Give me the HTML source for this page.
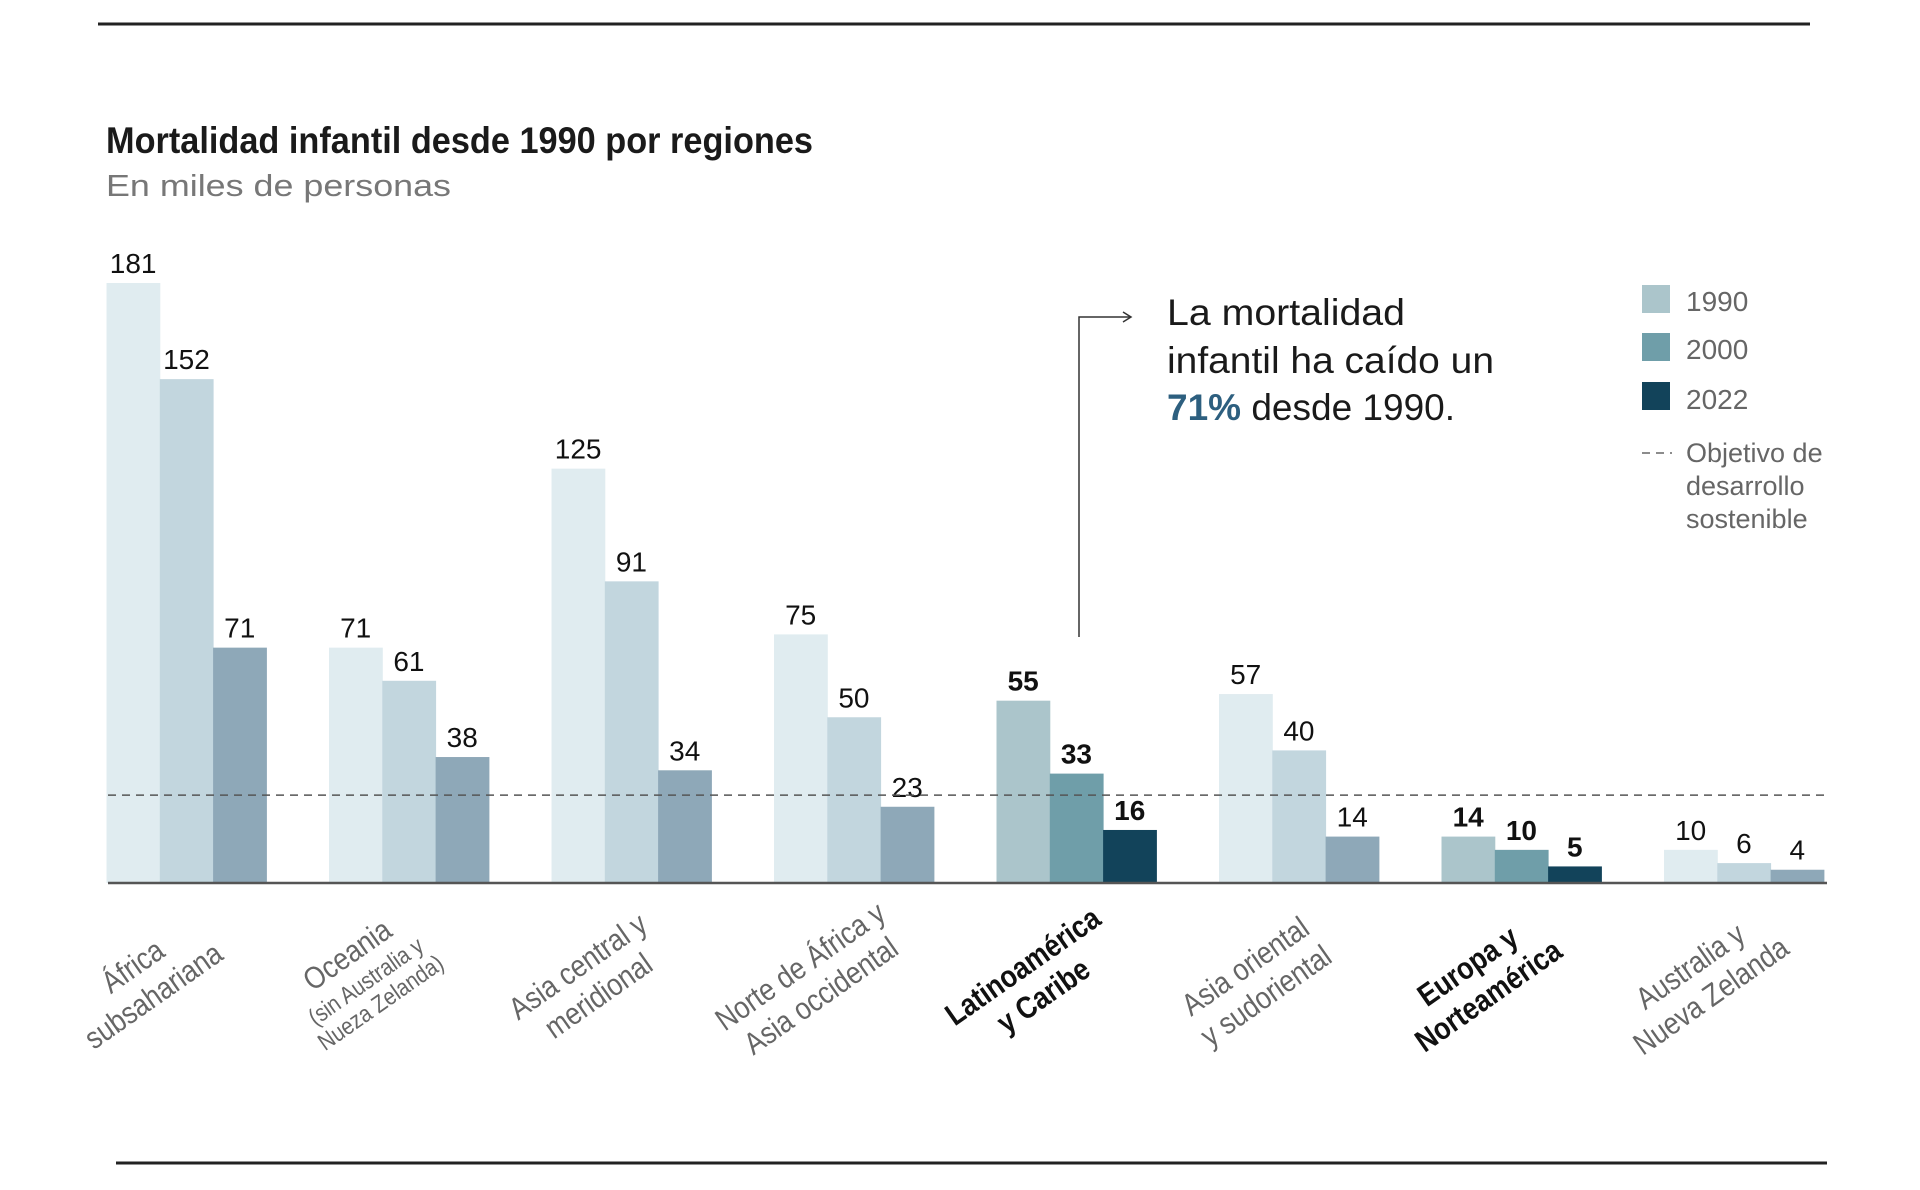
<!DOCTYPE html>
<html><head><meta charset="utf-8"><style>
html,body{margin:0;padding:0;background:#fff;}
svg{display:block;font-family:"Liberation Sans",sans-serif;}
</style></head><body>
<svg id="chart" width="1920" height="1190" viewBox="0 0 1920 1190">
<line x1="98" y1="24" x2="1810" y2="24" stroke="#222" stroke-width="3"/>
<line x1="116" y1="1163" x2="1827" y2="1163" stroke="#222" stroke-width="3"/>
<text x="106" y="153" font-size="37" font-weight="bold" fill="#1a1a1a" textLength="707" lengthAdjust="spacingAndGlyphs">Mortalidad infantil desde 1990 por regiones</text>
<text x="106" y="196" font-size="31" fill="#777" textLength="345" lengthAdjust="spacingAndGlyphs">En miles de personas</text>
<g id="bars"></g>
<g id="vals"></g>
<g id="xlabels"></g>
<line x1="108" y1="883" x2="1827" y2="883" stroke="#555" stroke-width="2.5"/>
<line id="goal" x1="108" x2="1827" stroke="#555" stroke-width="1.5" stroke-dasharray="8,6"/>
<g>
<polyline points="1079,637 1079,317 1130,317" fill="none" stroke="#333" stroke-width="1.5"/>
<polyline points="1123,312 1131,317 1123,322" fill="none" stroke="#333" stroke-width="1.5"/>
<text font-size="37" fill="#1a1a1a">
<tspan x="1167" y="325" textLength="238" lengthAdjust="spacingAndGlyphs">La mortalidad</tspan>
<tspan x="1167" y="373" textLength="327" lengthAdjust="spacingAndGlyphs">infantil ha caído un</tspan>
<tspan x="1167" y="420"><tspan font-weight="bold" fill="#2d5f7f">71%</tspan> desde 1990.</tspan></text>
</g>
<g>
<rect x="1642" y="285" width="28" height="28" fill="#abc5cb"/>
<text x="1686" y="311" font-size="28" fill="#666">1990</text>
<rect x="1642" y="333" width="28" height="28" fill="#6f9ea9"/>
<text x="1686" y="359" font-size="28" fill="#666">2000</text>
<rect x="1642" y="382" width="28" height="28" fill="#12435a"/>
<text x="1686" y="409" font-size="28" fill="#666">2022</text>
<line x1="1642" y1="453" x2="1672" y2="453" stroke="#666" stroke-width="1.5" stroke-dasharray="8,6"/>
<text font-size="27" fill="#666"><tspan x="1686" y="462">Objetivo de</tspan><tspan x="1686" y="495">desarrollo</tspan><tspan x="1686" y="528">sostenible</tspan></text>
</g>
</svg>
<script>
const regions = ["África subsahariana","Oceania","Asia central y meridional","Norte de África y Asia occidental","Latinoamérica y Caribe","Asia oriental y sudoriental","Europa y Norteamérica","Australia y Nueva Zelanda"];
const v1990 = [181,71,125,75,55,57,14,10];
const v2000 = [152,61,91,50,33,40,10,6];
const v2022 = [71,38,34,23,16,14,5,4];
const highlighted = [false,false,false,false,true,false,true,false];
const target = 26.5;
const labelLines = [["África","subsahariana"],["Oceania","(sin Australia y","Nueza Zelanda)"],["Asia central y","meridional"],["Norte de África y","Asia occidental"],["Latinoamérica","y Caribe"],["Asia oriental","y sudoriental"],["Europa y","Norteamérica"],["Australia y","Nueva Zelanda"]];

const NS="http://www.w3.org/2000/svg";
const base=883, pxPerUnit=600/181;
const y=v=>base-v*pxPerUnit;
const groupX=i=>106.5+i*222.5;
const barW=53.3;
const normal=["#e0ecf0","#c2d6de","#8ea8b8"];
const hi=["#abc5cb","#6f9ea9","#12435a"];
const years=["1990","2000","2022"];
const series=[v1990,v2000,v2022];
const bars=document.getElementById('bars'), vals=document.getElementById('vals'), xl=document.getElementById('xlabels');
document.getElementById('goal').setAttribute('y1',y(target));
document.getElementById('goal').setAttribute('y2',y(target));
regions.forEach((r,i)=>{
  series.forEach((s,k)=>{
    const x=groupX(i)+k*barW;
    const rect=document.createElementNS(NS,'rect');
    rect.setAttribute('x',x);rect.setAttribute('y',y(s[i]));
    rect.setAttribute('width',barW+0.5);rect.setAttribute('height',base-y(s[i]));
    rect.setAttribute('fill',(highlighted[i]?hi:normal)[k]);
    
    
    bars.appendChild(rect);
    const t=document.createElementNS(NS,'text');
    t.setAttribute('x',x+barW/2);t.setAttribute('y',y(s[i])-10);
    t.setAttribute('text-anchor','middle');t.setAttribute('font-size','28');
    t.setAttribute('fill','#111');
    if(highlighted[i]) t.setAttribute('font-weight','bold');
    t.textContent=s[i];
    
    
    vals.appendChild(t);
  });
  const cx=groupX(i)+1.5*barW-42, cy=base+100;
  const g=document.createElementNS(NS,'text');
  g.setAttribute('transform','translate('+cx+','+cy+') rotate(-35) scale(0.86,1)');
  g.setAttribute('text-anchor','middle');
  g.setAttribute('fill',highlighted[i]?'#111':'#666');
  if(highlighted[i]) g.setAttribute('font-weight','bold');
  
  
  const lines=labelLines[i];
  const n=lines.length;
  lines.forEach((ln,j)=>{
    const ts=document.createElementNS(NS,'tspan');
    ts.setAttribute('x',0);
    const small = n===3 && j>0;
    ts.setAttribute('y', n===3 ? (j===0?-24:(j===1?6:32)) : (j===0?-10:26));
    ts.setAttribute('font-size', small?'24':'31');
    ts.textContent=ln;
    g.appendChild(ts);
  });
  xl.appendChild(g);
});
</script>
</body></html>
